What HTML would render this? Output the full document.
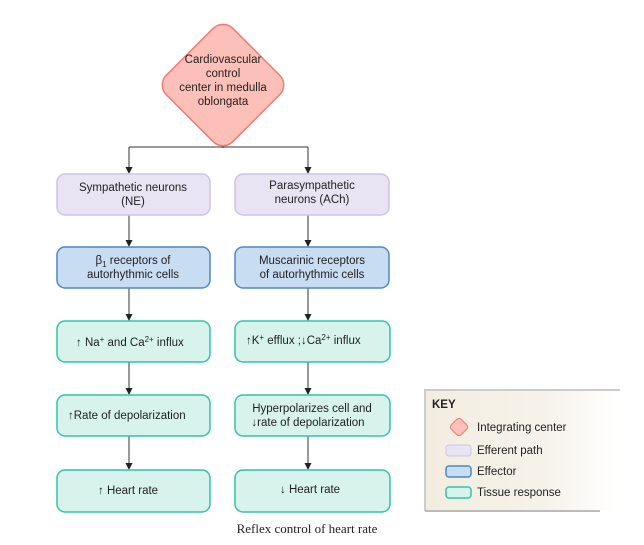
<!DOCTYPE html>
<html><head><style>
body{margin:0;background:#fff;width:644px;height:545px;overflow:hidden}
svg{display:block}
text{font-family:"Liberation Sans",sans-serif;font-size:11.5px;fill:#222}
</style></head><body>
<svg width="644" height="545" viewBox="0 0 644 545">
<defs>
<linearGradient id="kg" x1="0" x2="1"><stop offset="0" stop-color="#f3ede0"/><stop offset="0.6" stop-color="#f6f2ea"/><stop offset="1" stop-color="#fff"/></linearGradient>
</defs>
<rect x="176" y="38" width="94" height="94" rx="14" transform="rotate(45 223 85)" fill="#fcc0b8" stroke="#ee7b70" stroke-width="1.5"/>
<text x="223" y="63" text-anchor="middle">Cardiovascular</text>
<text x="223" y="77" text-anchor="middle">control</text>
<text x="223" y="91" text-anchor="middle">center in medulla</text>
<text x="223" y="105" text-anchor="middle">oblongata</text>
<g stroke="#333" stroke-width="1" fill="none">
<path d="M223,148 V147 M129,147 H308"/>
<path d="M129,147 V168 M308,147 V168"/>
<path d="M129,215 V241 M308,215 V241"/>
<path d="M129,288 V315 M308,288 V315"/>
<path d="M129,362 V389 M308,362 V389"/>
<path d="M129,436 V464 M308,436 V464"/>
</g>
<g fill="#222">
<path d="M125.5,167 L132.5,167 L129,174 Z"/><path d="M304.5,167 L311.5,167 L308,174 Z"/>
<path d="M125.5,240 L132.5,240 L129,247 Z"/><path d="M304.5,240 L311.5,240 L308,247 Z"/>
<path d="M125.5,314 L132.5,314 L129,321 Z"/><path d="M304.5,314 L311.5,314 L308,321 Z"/>
<path d="M125.5,388 L132.5,388 L129,395 Z"/><path d="M304.5,388 L311.5,388 L308,395 Z"/>
<path d="M125.5,463 L132.5,463 L129,470 Z"/><path d="M304.5,463 L311.5,463 L308,470 Z"/>
</g>
<g fill="#e9e4f4" stroke="#cdc4e6" stroke-width="1.5">
<rect x="57" y="174" width="153" height="41" rx="8"/>
<rect x="235" y="174" width="154" height="41" rx="8"/>
</g>
<text x="133" y="191" text-anchor="middle">Sympathetic neurons</text>
<text x="133" y="205" text-anchor="middle">(NE)</text>
<text x="312" y="189" text-anchor="middle">Parasympathetic</text>
<text x="312" y="203" text-anchor="middle">neurons (ACh)</text>
<g fill="#c8dcf2" stroke="#4f87c2" stroke-width="1.5">
<rect x="57" y="247" width="153" height="41" rx="8"/>
<rect x="235" y="247" width="154" height="41" rx="8"/>
</g>
<text x="133" y="264" text-anchor="middle">β<tspan font-size="8" dy="3">1</tspan><tspan dy="-3"> receptors of</tspan></text>
<text x="133" y="278" text-anchor="middle">autorhythmic cells</text>
<text x="312" y="264" text-anchor="middle">Muscarinic receptors</text>
<text x="312" y="278" text-anchor="middle">of autorhythmic cells</text>
<g fill="#d8f2ec" stroke="#2ec4ad" stroke-width="1.5">
<rect x="57" y="321" width="153" height="41" rx="8"/>
<rect x="235" y="321" width="155" height="41" rx="8"/>
<rect x="57" y="395" width="153" height="41" rx="8"/>
<rect x="235" y="395" width="155" height="41" rx="8"/>
<rect x="57" y="470" width="153" height="42" rx="8"/>
<rect x="235" y="470" width="155" height="42" rx="8"/>
</g>
<text x="76" y="346">↑ Na<tspan font-size="8" dy="-4">+</tspan><tspan dy="4"> and Ca</tspan><tspan font-size="8" dy="-4">2+</tspan><tspan dy="4"> influx</tspan></text>
<text x="246" y="344">↑K<tspan font-size="8" dy="-4">+</tspan><tspan dy="4"> efflux ;↓Ca</tspan><tspan font-size="8" dy="-4">2+</tspan><tspan dy="4"> influx</tspan></text>
<text x="68" y="419">↑Rate of depolarization</text>
<text x="312" y="412" text-anchor="middle">Hyperpolarizes cell and</text>
<text x="308" y="426" text-anchor="middle">↓rate of depolarization</text>
<text x="98" y="494">↑ Heart rate</text>
<text x="280" y="493">↓ Heart rate</text>
<rect x="425" y="390" width="195" height="121" fill="url(#kg)"/>
<path d="M425,511 V390 H620" stroke="#ccc" stroke-width="2" fill="none"/>
<path d="M425,511 H600" stroke="#bbb" stroke-width="2" fill="none"/>
<text x="432" y="408" font-weight="bold" font-size="11.5">KEY</text>
<rect x="452" y="420" width="14" height="14" rx="3" transform="rotate(45 459 427)" fill="#fcc0b8" stroke="#ee7b70"/>
<text x="477" y="431" font-size="12">Integrating center</text>
<rect x="446" y="445" width="25" height="11" rx="3" fill="#e9e4f4" stroke="#cdc4e6"/>
<text x="477" y="454" font-size="12">Efferent path</text>
<rect x="446" y="466" width="25" height="11" rx="3" fill="#c8dcf2" stroke="#4f87c2" stroke-width="1.5"/>
<text x="477" y="475" font-size="12">Effector</text>
<rect x="446" y="487" width="25" height="11" rx="3" fill="#d8f2ec" stroke="#2ec4ad" stroke-width="1.5"/>
<text x="477" y="496" font-size="12">Tissue response</text>
<text x="307" y="533" text-anchor="middle" style="font-family:'Liberation Serif',serif;font-size:13px">Reflex control of heart rate</text>
</svg>
</body></html>
